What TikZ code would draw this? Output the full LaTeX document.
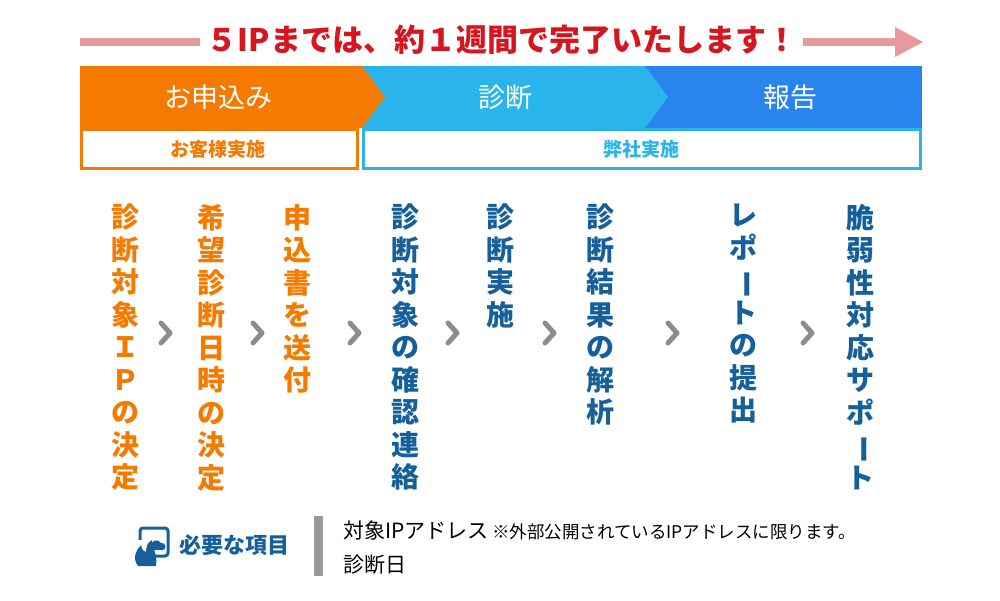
\documentclass[tikz,border=0pt]{standalone}
\usepackage{fontspec}
\setmainfont{Noto Sans CJK JP}
\definecolor{org}{HTML}{F57B00}
\definecolor{lblue}{HTML}{29B4EC}
\definecolor{dblue}{HTML}{2A84EE}
\definecolor{tblue}{HTML}{15609A}
\definecolor{pink}{HTML}{E8999C}
\definecolor{red}{HTML}{D7151E}
\definecolor{chev}{HTML}{8C8C8C}
\definecolor{gbar}{HTML}{9A9A9A}
\newcommand{\vbar}{\rotatebox[origin=c]{-90}{ー}}
\tikzset{
 vcol/.style={anchor=north,align=center,font=\fontsize{28}{32.5}\selectfont\bfseries,inner sep=0},
 chevron/.style={draw=chev,line width=5pt,line cap=round,line join=round},
 head/.style={text=white,font=\fontsize{27}{30}\selectfont},
 sub/.style={font=\fontsize{19}{22}\selectfont\bfseries},
}
\begin{document}
\begin{tikzpicture}[x=1pt,y=-1pt]
\useasboundingbox (0,0) rectangle (1000,600);
% top arrow
\coordinate (l1) at (80,42); \coordinate (l2) at (200,42);
\coordinate (r1) at (803,42); \coordinate (r2) at (896,42);
\draw[pink,line width=8pt] (l1) -- (l2);
\draw[pink,line width=8pt] (r1) -- (r2);
\fill[pink] (895,27) -- (923,42) -- (895,57) -- cycle;
\node[text=red,font=\fontsize{31}{34}\selectfont\bfseries] (title) at (502,40) {５IPまでは、約１週間で完了いたします！};
% header band
\fill[dblue] (645,66) rectangle (922,128);
\fill[lblue] (362,66) -- (645,66) -- (668,97) -- (645,128) -- (362,128) -- cycle;
\fill[org] (80,66) -- (362,66) -- (385,97) -- (362,128) -- (80,128) -- cycle;
\node[head] (h1) at (218,97) {お申込み};
\node[head] (h2) at (505,97) {診断};
\node[head] (h3) at (790,97) {報告};
\draw[org,line width=3pt,fill=white] (81.5,129.5) rectangle (357.5,168.5);
\draw[lblue,line width=3pt,fill=white] (363.5,129.5) rectangle (920.5,168.5);
\node[sub,text=org] (s1) at (218,149) {お客様実施};
\node[sub,text=lblue] (s2) at (641,149) {弊社実施};
% columns
\node[vcol,text=org] (c1) at (125,204) {診\\断\\対\\象\\Ｉ\\Ｐ\\の\\決\\定};
\node[vcol,text=org] (c2) at (211,204) {希\\望\\診\\断\\日\\時\\の\\決\\定};
\node[vcol,text=org] (c3) at (297,204) {申\\込\\書\\を\\送\\付};
\node[vcol,text=tblue] (c4) at (405,204) {診\\断\\対\\象\\の\\確\\認\\連\\絡};
\node[vcol,text=tblue] (c5) at (500,204) {診\\断\\実\\施};
\node[vcol,text=tblue] (c6) at (600,204) {診\\断\\結\\果\\の\\解\\析};
\node[vcol,text=tblue] (c7) at (743,204) {レ\\ポ\\\vbar\\ト\\の\\提\\出};
\node[vcol,text=tblue] (c8) at (860,204) {脆\\弱\\性\\対\\応\\サ\\ポ\\\vbar\\ト};
% chevrons
\foreach \x in {166,258,355,453,550,673,808}
  \draw[chevron] (\x-5,323) -- (\x+4,333) -- (\x-5,343);
% bottom
\draw[tblue,line width=3pt,rounded corners=3pt] (140,528) rectangle (168,556);
\fill[white] (132,540) rectangle (150,566);
\fill[tblue] (138,566) .. controls (132,558) and (136,550) .. (141,545) .. controls (142,550) and (144,552) .. (146,552) .. controls (146,546) and (148,542) .. (152,540) .. controls (151,548) and (158,552) .. (156,566) -- cycle;
\fill[tblue] (150,547) .. controls (151,540) and (158,538) .. (161,543) .. controls (166,542) and (167,549) .. (163,550) -- (151,550) -- cycle;
\node[text=tblue,font=\fontsize{22}{26}\selectfont\bfseries,anchor=west] (need) at (176,545) {必要な項目};
\fill[gbar] (314,516) rectangle (323,576);
\node[anchor=west,font=\fontsize{21}{24}\selectfont,inner sep=0] (i1) at (343,530) {対象IPアドレス\,\fontsize{17.5}{20}\selectfont ※外部公開されているIPアドレスに限ります。};
\node[anchor=west,font=\fontsize{21}{24}\selectfont,inner sep=0] (i2) at (343,565) {診断日};
\end{tikzpicture}
\end{document}
